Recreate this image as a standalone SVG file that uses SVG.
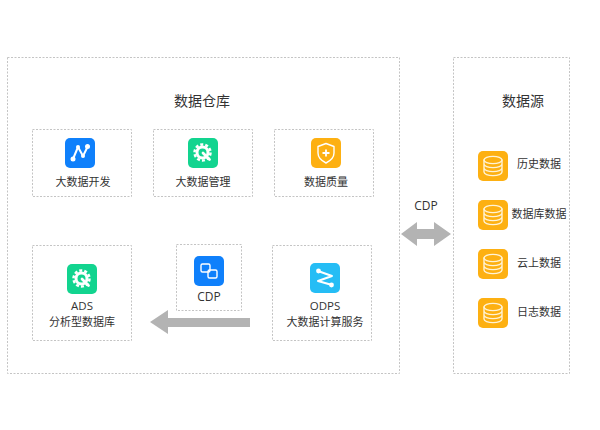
<svg xmlns="http://www.w3.org/2000/svg" width="600" height="430" viewBox="0 0 600 430">
<style>
text{font-family:"Open Sans","Noto Sans CJK SC",sans-serif;fill:#333;font-size:11px;text-anchor:middle}
.t{font-size:14px}
.l{font-size:12px}
.m{font-size:11.500px}
.b{fill:#fff;stroke:#c4c4c4;stroke-width:1;stroke-dasharray:2 1.500}
.g{fill:none;stroke:#fff;stroke-width:1.400;stroke-linecap:round;stroke-linejoin:round}
.w{fill:#fff}
.a{fill:#b3b3b3}
.blue{fill:#0f80fb}.green{fill:#12d48f}.amber{fill:#fdb012}.cyan{fill:#25bdf5}
</style>
<defs>
<g id="db">
<rect class="amber" width="30" height="30" rx="5"/>
<g class="g" style="stroke:#fff3d6">
<ellipse cx="15" cy="9" rx="9" ry="3.600"/>
<path d="M6 9v12c0 2 4 3.600 9 3.600s9-1.600 9-3.600V9M6 13c0 2 4 3.600 9 3.600s9-1.600 9-3.600M6 17c0 2 4 3.600 9 3.600s9-1.600 9-3.600"/>
</g>
</g>
<g id="gear">
<rect class="green" width="30" height="30" rx="5"/>
<circle cx="14.500" cy="14.500" r="5.500" fill="none" stroke="#fff" stroke-width="3"/>
<circle cx="14.500" cy="14.500" r="8" fill="none" stroke="#fff" stroke-width="2.500" stroke-dasharray="3 2.030"/>
<path d="M15 15l6.500 6.500" stroke="#fff" stroke-width="2.800" stroke-linecap="round"/>
</g>
</defs>
<rect class="b" x="7.500" y="57.500" width="392" height="316"/>
<rect class="b" x="453.500" y="57.500" width="116" height="316"/>
<text class="t" x="202" y="106">数据仓库</text>
<text class="t" x="523" y="106">数据源</text>
<g id="connectors">
<path class="a" d="M150 322L168 310V318H250V327H168V334Z"/>
<path class="a" d="M401 234L417 222V229H434V222L451 234L434 246V239H417V246Z"/>
<text class="l" x="426" y="210">CDP</text>
</g>
<g id="n-dev">
<rect class="b" x="32.500" y="129.500" width="99" height="67"/>
<rect class="blue" x="65" y="138" width="30" height="30" rx="5"/>
<path d="M73 159L78 147L83 156L88 146" class="g" style="stroke-width:2"/>
<circle class="w" cx="73" cy="159" r="2.500"/><circle class="w" cx="78" cy="147" r="2"/><circle class="w" cx="83" cy="156" r="2"/><circle class="w" cx="87.500" cy="146.500" r="2.500"/>
<text x="83" y="186">大数据开发</text>
</g>
<g id="n-mgmt">
<rect class="b" x="153.500" y="129.500" width="99" height="67"/>
<use href="#gear" x="188" y="138"/>
<text x="203" y="186">大数据管理</text>
</g>
<g id="n-quality">
<rect class="b" x="274.500" y="129.500" width="99" height="67"/>
<rect class="amber" x="311" y="138" width="30" height="30" rx="5"/>
<path class="g" d="M326 143.500L334 146.500V153C334 158 330 161 326 163C322 161 318 158 318 153V146.500Z"/>
<path d="M326 149.500v7M322.500 153h7" stroke="#fff" stroke-width="1.800"/>
<text x="326" y="186">数据质量</text>
</g>
<g id="n-ads">
<rect class="b" x="32.500" y="245.500" width="99" height="95"/>
<use href="#gear" x="67" y="264"/>
<text class="m" x="82" y="310">ADS</text>
<text x="82" y="325.500">分析型数据库</text>
</g>
<g id="n-cdp">
<rect class="b" x="176.500" y="244.500" width="65" height="66"/>
<rect class="blue" x="194" y="256" width="30" height="30" rx="5"/>
<rect class="g" x="201" y="264" width="9" height="8" rx="1.500"/>
<rect class="g" x="208" y="270" width="9" height="8" rx="1.500"/>
<text class="l" x="209" y="301">CDP</text>
</g>
<g id="n-odps">
<rect class="b" x="272.500" y="245.500" width="99" height="95"/>
<rect class="cyan" x="310" y="263" width="30" height="30" rx="5"/>
<path class="g" style="stroke-width:2" d="M318 271L332 276L318 281L332 285"/>
<circle class="w" cx="318.500" cy="271" r="2.400"/><circle class="w" cx="331.500" cy="285" r="2.400"/>
<text class="m" x="325" y="310">ODPS</text>
<text x="325" y="325.500">大数据计算服务</text>
</g>
<g id="n-history"><use href="#db" x="478" y="151"/><text x="539" y="168">历史数据</text></g>
<g id="n-dbdata"><use href="#db" x="478" y="200"/><text x="539" y="218">数据库数据</text></g>
<g id="n-cloud"><use href="#db" x="478" y="249"/><text x="539" y="267">云上数据</text></g>
<g id="n-log"><use href="#db" x="478" y="298"/><text x="539" y="316">日志数据</text></g>
</svg>
